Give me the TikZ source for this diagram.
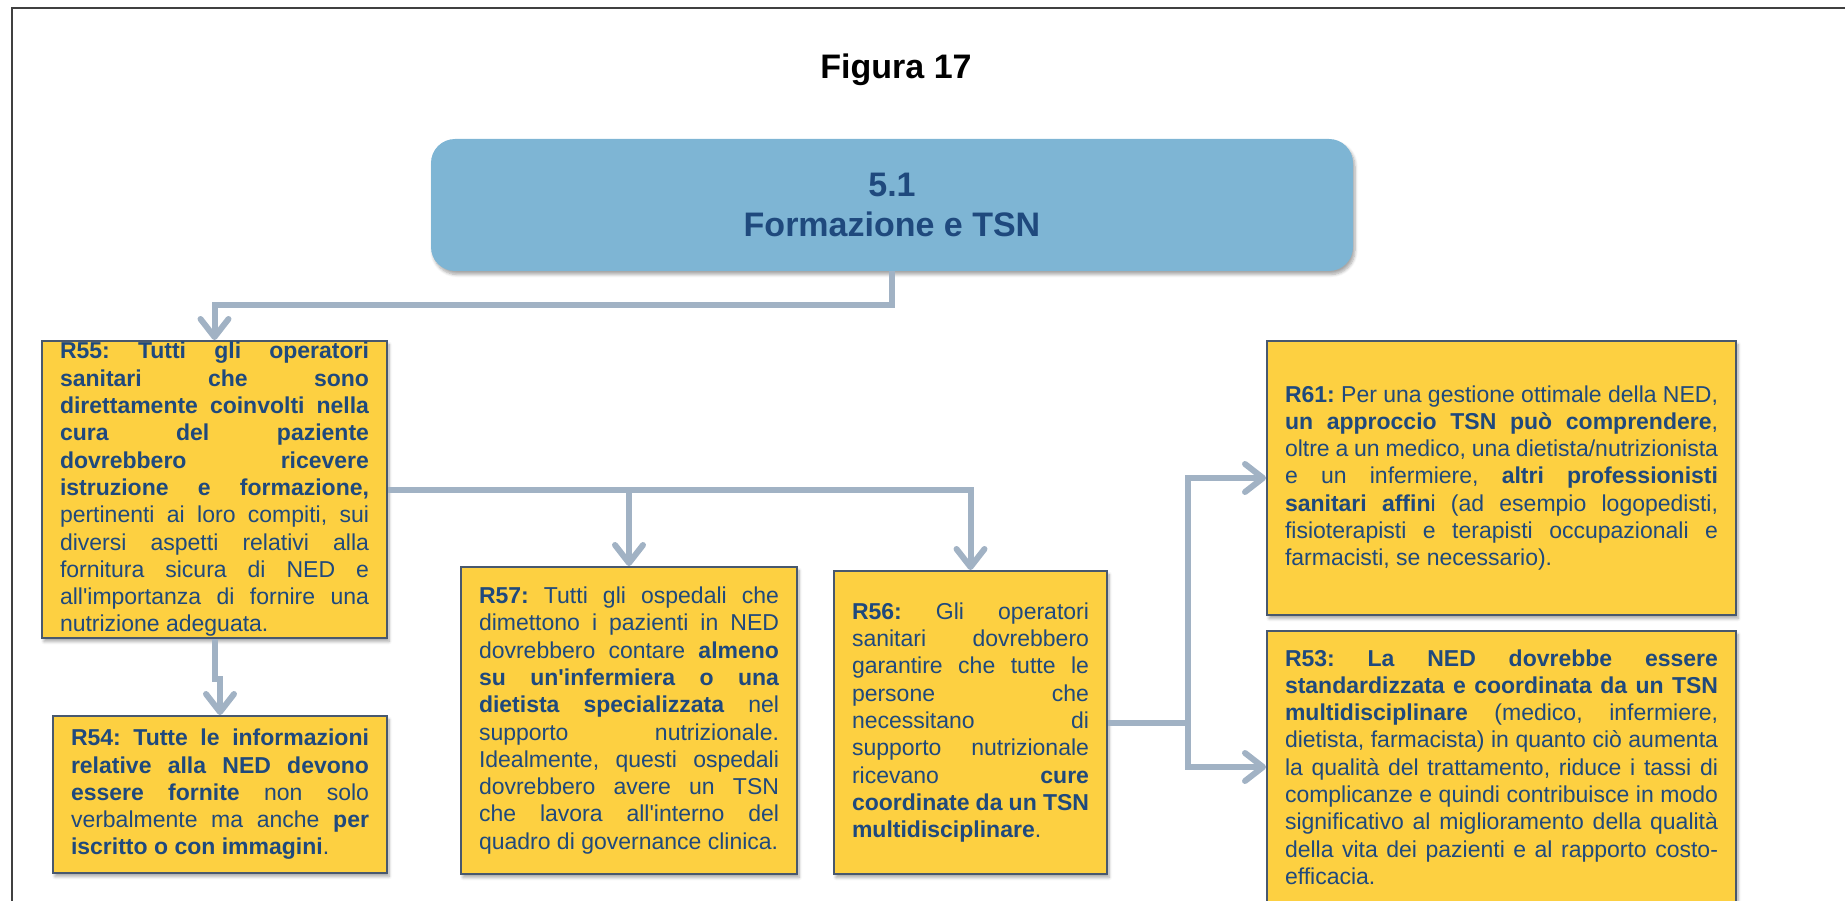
\documentclass[tikz,border=0pt]{standalone}
\usepackage{fontspec}
\setmainfont{Liberation Sans}[Ligatures=TeXOff]
\usetikzlibrary{arrows.meta,shadows.blur}

\definecolor{ink}{RGB}{31,73,125}
\definecolor{rfill}{RGB}{253,208,65}
\definecolor{boxline}{RGB}{72,88,110}
\definecolor{linkgray}{RGB}{161,178,196}
\definecolor{headfill}{RGB}{126,181,212}
\definecolor{framegray}{RGB}{64,64,64}

\tolerance=10000
\hbadness=10000
\hfuzz=5pt
\hyphenpenalty=10000
\exhyphenpenalty=10000
\frenchspacing

\tikzset{
  softshadow/.style={blur shadow={shadow xshift=2pt, shadow yshift=-3.5pt,
      shadow blur steps=6, shadow blur radius=3pt, shadow opacity=35}},
  rbox/.style={draw=boxline, line width=2pt, fill=rfill, text=ink,
      align=justify, inner xsep=18pt, inner ysep=0pt,
      font=\fontsize{23}{27.3}\selectfont, softshadow},
  headbox/.style={fill=headfill, rounded corners=24pt, text=ink,
      align=center, font=\bfseries\fontsize{34}{40}\selectfont,
      minimum width=922pt, minimum height=132pt, softshadow},
  conn/.style={draw=linkgray, line width=6pt,
      -{Straight Barb[length=18pt, width=28pt, round]}},
  frameline/.style={draw=framegray, line width=2.5pt},
}

\begin{document}
\begin{tikzpicture}[x=1pt, y=-1pt]
  \useasboundingbox (0,0) rectangle (1845,901);
  \clip (0,0) rectangle (1845,901);

  % outer frame (top and left edges)
  \draw[frameline] (12,901) -- (12,8) -- (1845,8);

  % title
  \node[anchor=base, font=\bfseries\fontsize{34}{40}\selectfont] (title)
    at (896,79) {Figura 17};

  % section header
  \node[headbox] (head) at (892,205) {5.1\\Formazione e TSN};

  % recommendation boxes
  \node[rbox, text width=309pt, minimum height=297pt] (r55) at (214.5,489.5) {%
    \textbf{R55: Tutti gli operatori\linebreak
    sanitari che sono\linebreak
    direttamente coinvolti nella\linebreak
    cura del paziente\linebreak
    dovrebbero ricevere\linebreak
    istruzione e formazione,}\linebreak
    pertinenti ai loro compiti, sui\linebreak
    diversi aspetti relativi alla\linebreak
    fornitura sicura di NED e\linebreak
    all'importanza di fornire una\linebreak
    nutrizione adeguata.};

  \node[rbox, text width=298pt, minimum height=157pt] (r54) at (220,794.5) {%
    \textbf{R54: Tutte le informazioni\linebreak
    relative alla NED devono\linebreak
    essere fornite} non solo\linebreak
    verbalmente ma anche \textbf{per\linebreak
    iscritto o con immagini}.};

  \node[rbox, text width=300pt, minimum height=307pt] (r57) at (629,720.5) {%
    \textbf{R57:} Tutti gli ospedali che\linebreak
    dimettono i pazienti in NED\linebreak
    dovrebbero contare \textbf{almeno\linebreak
    su un'infermiera o una\linebreak
    dietista specializzata} nel\linebreak
    supporto nutrizionale.\linebreak
    Idealmente, questi ospedali\linebreak
    dovrebbero avere un TSN\linebreak
    che lavora all'interno del\linebreak
    quadro di governance clinica.};

  \node[rbox, text width=237pt, minimum height=303pt] (r56) at (970.5,722.5) {%
    \textbf{R56:} Gli operatori\linebreak
    sanitari dovrebbero\linebreak
    garantire che tutte le\linebreak
    persone che\linebreak
    necessitano di\linebreak
    supporto nutrizionale\linebreak
    ricevano \textbf{cure\linebreak
    coordinate da un TSN\linebreak
    multidisciplinare}.};

  \node[rbox, text width=433pt, minimum height=274pt] (r61) at (1501.5,478) {%
    \textbf{R61:} Per una gestione ottimale della NED,\linebreak
    \textbf{un approccio TSN può comprendere},\linebreak
    oltre a un medico, una dietista/nutrizionista\linebreak
    e un infermiere, \textbf{altri professionisti\linebreak
    sanitari affin}i (ad esempio logopedisti,\linebreak
    fisioterapisti e terapisti occupazionali e\linebreak
    farmacisti, se necessario).};

  \node[rbox, text width=433pt, minimum height=272pt] (r53) at (1501.5,767) {%
    \textbf{R53: La NED dovrebbe essere\linebreak
    standardizzata e coordinata da un TSN\linebreak
    multidisciplinare} (medico, infermiere,\linebreak
    dietista, farmacista) in quanto ciò aumenta\linebreak
    la qualità del trattamento, riduce i tassi di\linebreak
    complicanze e quindi contribuisce in modo\linebreak
    significativo al miglioramento della qualità\linebreak
    della vita dei pazienti e al rapporto costo-\linebreak
    efficacia.};

  % connectors
  \draw[conn] (head.south) -- ++(0,34) -| (r55.north);
  \draw[conn] (r55.south) -- ++(0,40) -| (r54.north);
  \draw[conn] (r55.east) -| (r57.north);
  \draw[conn] (r55.east) -| (r56.north);
  \draw[draw=linkgray, line width=6pt] (r56.east) -- ++(80,0) coordinate (fork);
  \draw[conn] (fork) |- (r61.west);
  \draw[conn] (fork) |- (r53.west);
\end{tikzpicture}
\end{document}
